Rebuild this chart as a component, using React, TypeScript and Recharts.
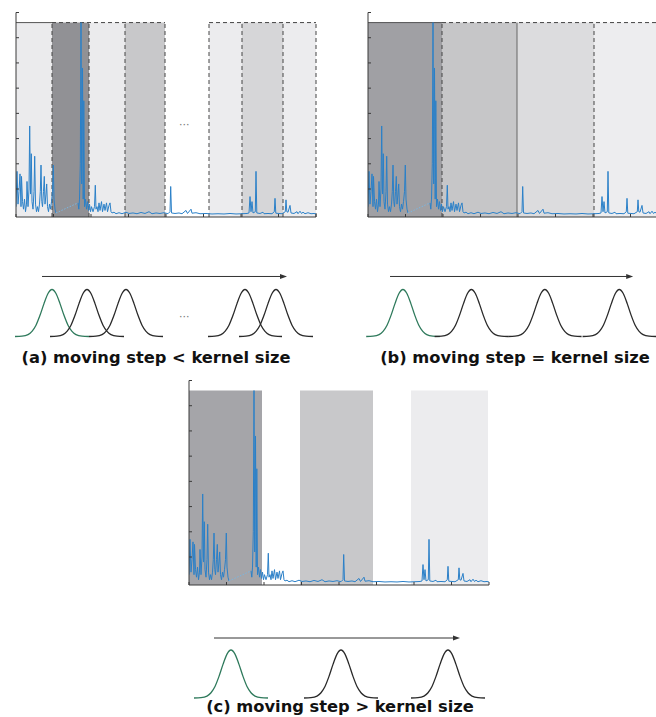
import React from "react";
import {
  LineChart,
  Line,
  XAxis,
  YAxis,
  ReferenceArea,
  ReferenceLine,
} from "recharts";

// signal: position along the 0-300 axis and amplitude
const signalX = [
  0, 1, 2, 3, 4, 5, 5.5, 6.5, 7.5, 8.5, 9.5, 10.5, 11, 12, 13, 13.7, 14.5,
  15.3, 16, 17, 18, 18.7, 19.5, 20.5, 21.5, 22.5, 23.5, 24.3, 25, 25.8, 26.5,
  27.5, 28.3, 29, 30, 30.7, 31.5, 32.5, 33.5, 34.5, 35.5, 36.5, 37.3, 38, 39,
  40, 62, 62.8, 63.5, 64.3, 65, 65.7, 66.5, 67.2, 67.8, 68.5, 69.5, 70.5, 71.5,
  72.5, 73.5, 74.5, 75.5, 77, 78.5, 79.3, 80, 81, 82, 83, 84, 85.5, 86.5, 88,
  89, 90.5, 91.5, 93, 94, 95, 96, 98, 100, 103, 106, 110, 113, 117, 121, 125,
  129, 133, 136, 140, 144, 148, 152, 154, 154.7, 155.5, 159, 163, 166, 170,
  171.5, 175, 176, 180, 184, 190, 196, 202, 208, 214, 220, 226, 231, 233, 234,
  235, 236, 237, 239.3, 240, 240.8, 244, 247, 248, 252, 256, 258.3, 259, 259.8,
  263, 266, 269.3, 270, 270.8, 272, 274, 275, 278, 281, 282, 284, 285.5, 287,
  289, 292, 295, 298, 300,
];
const signalY = [
  0.3, 1.7, 0.4, 0.9, 1.6, 0.3, 1.5, 0.5, 0.2, 0.6, 0.1, 0.4, 1.3, 0.3, 1.0,
  3.5, 0.8, 2.4, 0.5, 0.2, 0.9, 2.3, 0.4, 0.1, 0.3, 0.1, 0.4, 0.9, 1.95, 0.5,
  0.3, 0.9, 1.5, 0.4, 0.8, 1.2, 0.3, 0.1, 0.4, 0.2, 0.5, 0.9, 1.95, 0.6, 0.2,
  0.05, 0.45, 0.2, 0.6, 2.0, 7.6, 1.2, 5.8, 0.6, 4.5, 0.3, 0.6, 0.2, 0.5, 0.15,
  0.4, 0.1, 0.3, 0.1, 0.3, 1.15, 0.2, 0.3, 0.1, 0.45, 0.15, 0.5, 0.1, 0.4,
  0.15, 0.45, 0.1, 0.35, 0.45, 0.1, 0.05, 0.08, 0.02, 0.06, 0.02, 0.08, 0.03,
  0.05, 0.02, 0.07, 0.03, 0.1, 0.02, 0.05, 0.03, 0.06, 0.02, 0.1, 1.1, 0.05,
  0.03, 0.05, 0.02, 0.15, 0.03, 0.2, 0.04, 0.06, 0.02, 0.03, 0.01, 0.02, 0.01,
  0.03, 0.01, 0.02, 0.03, 0.05, 0.7, 0.1, 0.5, 0.05, 0.1, 1.7, 0.05, 0.03,
  0.08, 0.02, 0.03, 0.02, 0.1, 0.63, 0.04, 0.03, 0.02, 0.1, 0.57, 0.1, 0.08,
  0.35, 0.05, 0.03, 0.1, 0.02, 0.12, 0.03, 0.08, 0.02, 0.06, 0.02, 0.03, 0.01,
];
// missing stretch drawn dotted
const gapX = [40, 62];
const gapY = [0.05, 0.45];

const xTicks = [0, 37.5, 75, 112.5, 150, 187.5, 225, 262.5, 300];
const yTicks = [1, 2, 3, 4, 5, 6, 7, 8];
const windowTop = 7.6;
const axisBottom = -0.11;

// (a) overlapping windows
const windowsA = [[0, 36], [36, 73], [73, 109], [109, 149], [193, 226], [226, 267], [267, 300]];
const shadesA = ["#ebebed", "#919195", "#ebebed", "#c8c8ca", "#ececee", "#d6d6d8", "#ececee"];
const edgesA = [36, 73, 109, 149, 193, 226, 267, 300];
// (b) adjacent windows
const windowsB = [[0, 74], [74, 149], [149, 226], [226, 300]];
const shadesB = ["#a0a0a4", "#c6c6c8", "#dcdcde", "#ededef"];
const edgesB = [74, 149, 226];
// (c) windows with gaps
const windowsC = [[0, 73], [111, 184], [222, 299]];
const shadesC = ["#a5a5a9", "#c8c8ca", "#ececee"];

// kernel profile (offset in px, relative height)
const kernelOffset = [-37, -30, -24, -20, -16, -12, -8, -4, 0, 4, 8, 12, 16, 20, 24, 30, 37];
const kernelShape = [0, 0.007, 0.04, 0.11, 0.24, 0.45, 0.7, 0.915, 1, 0.915, 0.7, 0.45, 0.24, 0.11, 0.04, 0.007, 0];

const kernelsA = [52, 87, 126, 245, 276];
const kernelsB = [406, 475, 549, 624];
const kernelsC = [231, 341, 448];
const arrowA = [42, 287];
const arrowB = [393, 638];
const arrowC = [214, 460];

const captions = [
  "(a) moving step < kernel size",
  "(b) moving step = kernel size",
  "(c) moving step > kernel size",
];

const BLUE = "#2b80c8";
const LIGHT_BLUE = "#7ab6e2";
const AXIS = "#3a3a3a";
const GREEN = "#2f7a5c";

const signalRows = signalX.map((x, i) => ({ x, v: signalY[i] }));
const leftPart = signalRows.filter((r) => r.x <= gapX[0]);
const rightPart = signalRows.filter((r) => r.x >= gapX[1]);
const gapRows = gapX.map((x, i) => ({ x, v: gapY[i] }));

const kernelRows = (c: number) =>
  kernelOffset.map((o, i) => ({ x: c + o, y: kernelShape[i] }));

const Arrow = (props: any) => {
  const { x1, y1, x2, y2 } = props;
  return (
    <g>
      <line x1={x1} y1={y1} x2={x2 - 5} y2={y2} stroke="#333" strokeWidth={1} />
      <path d={`M${x2},${y2} L${x2 - 7},${y2 - 2.5} L${x2 - 7},${y2 + 2.5} Z`} fill="#333" />
    </g>
  );
};

const NoLabel = () => <g />;

type PanelProps = {
  left: number;
  top: number;
  windows: number[][];
  shades: string[];
  edges?: number[];
  edgeDash?: boolean[];
  solidTop?: number[];
  dashedTop?: number[][];
};

function SignalPanel({ left, top, windows, shades, edges = [], edgeDash = [], solidTop, dashedTop = [] }: PanelProps) {
  return (
    <div style={{ position: "absolute", left, top }}>
      <LineChart width={330} height={230} margin={{ top: 12.5, right: 14, bottom: 12, left: 15 }}>
        <XAxis
          type="number"
          dataKey="x"
          domain={[0, 300]}
          ticks={xTicks}
          tick={NoLabel}
          tickSize={-3}
          height={1}
          axisLine={{ stroke: AXIS }}
          tickLine={{ stroke: AXIS }}
          allowDataOverflow
        />
        <YAxis
          type="number"
          domain={[axisBottom, 8]}
          ticks={yTicks}
          tick={NoLabel}
          tickSize={-3}
          width={1}
          axisLine={{ stroke: AXIS }}
          tickLine={{ stroke: AXIS }}
          allowDataOverflow
        />
        {windows.map((w, i) => (
          <ReferenceArea
            key={"w" + i}
            x1={w[0]}
            x2={w[1]}
            y1={axisBottom}
            y2={windowTop}
            fill={shades[i]}
            fillOpacity={1}
            stroke="none"
          />
        ))}
        {edges.map((e, i) => (
          <ReferenceLine
            key={"e" + i}
            segment={[{ x: e, y: axisBottom }, { x: e, y: windowTop }]}
            stroke={edgeDash[i] === false ? "#666" : "#444"}
            strokeDasharray={edgeDash[i] === false ? undefined : "4 3"}
          />
        ))}
        {solidTop && (
          <ReferenceLine
            segment={[{ x: solidTop[0], y: windowTop }, { x: solidTop[1], y: windowTop }]}
            stroke="#555"
          />
        )}
        {dashedTop.map((d, i) => (
          <ReferenceLine
            key={"t" + i}
            segment={[{ x: d[0], y: windowTop }, { x: d[1], y: windowTop }]}
            stroke="#444"
            strokeDasharray="4 3"
          />
        ))}
        <Line data={leftPart} dataKey="v" stroke={BLUE} strokeWidth={1} dot={false} isAnimationActive={false} />
        <Line data={rightPart} dataKey="v" stroke={BLUE} strokeWidth={1} dot={false} isAnimationActive={false} />
        <Line
          data={gapRows}
          dataKey="v"
          stroke={LIGHT_BLUE}
          strokeWidth={1}
          strokeDasharray="1.5 1.5"
          dot={false}
          isAnimationActive={false}
        />
      </LineChart>
    </div>
  );
}

function KernelRow({ top, plotH, centers, arrow, arrowY }: { top: number; plotH: number; centers: number[]; arrow: number[]; arrowY: number }) {
  return (
    <div style={{ position: "absolute", left: 0, top }}>
      <LineChart width={656} height={plotH + 10} margin={{ top: 5, right: 0, bottom: 5, left: 0 }}>
        <XAxis type="number" dataKey="x" domain={[0, 656]} hide />
        <YAxis type="number" domain={[0, 1.5]} hide />
        <ReferenceLine
          segment={[{ x: arrow[0], y: arrowY }, { x: arrow[1], y: arrowY }]}
          shape={Arrow}
        />
        {centers.map((c, i) => (
          <Line
            key={c}
            data={kernelRows(c)}
            dataKey="y"
            type="monotone"
            stroke={i === 0 ? GREEN : "#2a2a2a"}
            strokeWidth={1.3}
            dot={false}
            isAnimationActive={false}
          />
        ))}
      </LineChart>
    </div>
  );
}

const captionStyle: React.CSSProperties = {
  position: "absolute",
  width: 340,
  textAlign: "center",
  fontFamily: "'DejaVu Sans', Verdana, sans-serif",
  fontWeight: 700,
  fontSize: 16.3,
  lineHeight: "20px",
  color: "#111",
  whiteSpace: "nowrap",
};

const dotsStyle: React.CSSProperties = {
  position: "absolute",
  fontFamily: "'DejaVu Sans', sans-serif",
  fontSize: 11,
  color: "#777",
  lineHeight: "12px",
};

export default function App() {
  return (
    <div
      style={{
        position: "absolute",
        left: 0,
        top: 0,
        width: 656,
        height: 717,
        overflow: "hidden",
        background: "#fff",
      }}
    >
      <SignalPanel
        left={0}
        top={0}
        windows={windowsA}
        shades={shadesA}
        edges={edgesA}
        solidTop={[0, 36]}
        dashedTop={[[36, 149], [193, 300]]}
      />
      <SignalPanel
        left={352}
        top={0}
        windows={windowsB}
        shades={shadesB}
        edges={edgesB}
        edgeDash={[true, false, true]}
        solidTop={[0, 74]}
        dashedTop={[[74, 300]]}
      />
      <SignalPanel left={173} top={367.5} windows={windowsC} shades={shadesC} />

      <div style={{ ...dotsStyle, left: 179, top: 119 }}>···</div>
      <div style={{ ...dotsStyle, left: 179, top: 311 }}>···</div>

      <KernelRow top={260.5} plotH={70.5} centers={kernelsA} arrow={arrowA} arrowY={1.277} />
      <KernelRow top={260.5} plotH={70.5} centers={kernelsB} arrow={arrowB} arrowY={1.277} />
      <KernelRow top={621} plotH={72} centers={kernelsC} arrow={arrowC} arrowY={1.25} />

      <div style={{ ...captionStyle, left: 156 - 170, top: 348 }}>{captions[0]}</div>
      <div style={{ ...captionStyle, left: 515 - 170, top: 348 }}>{captions[1]}</div>
      <div style={{ ...captionStyle, left: 340 - 170, top: 697 }}>{captions[2]}</div>
    </div>
  );
}
